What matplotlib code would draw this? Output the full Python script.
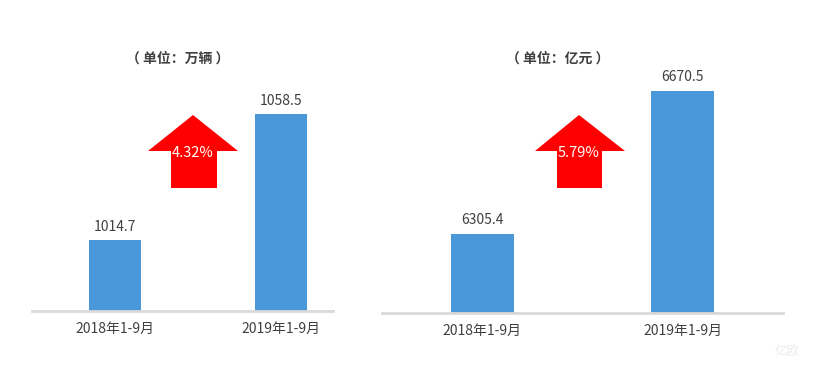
import matplotlib
matplotlib.use("Agg")
import matplotlib.pyplot as plt
from matplotlib.patches import Polygon

plt.rcParams['font.family'] = ['Noto Sans CJK SC', 'DejaVu Sans']

categories = ["2018年1-9月", "2019年1-9月"]
sales_values = [1014.7, 1058.5]
revenue_values = [6305.4, 6670.5]
titles = ["（ 单位：万辆 ）", "（ 单位：亿元 ）"]

W, H = 814, 371
fig = plt.figure(figsize=(W / 100, H / 100), dpi=100)

BLUE = "#4A97D9"
TEXT = "#404040"
GRID = "#D9D9D9"


def px_axes(x0, x1, ybot, ytop):
    return fig.add_axes([x0 / W, (H - ybot) / H, (x1 - x0) / W, (ybot - ytop) / H])


panels = [
    dict(vals=sales_values, title=titles[0], x0=32, x1=333, ybot=311, ytop=20,
         xlim=(-0.5, 1.313), width=0.313, ymin=990.0, scale=2.877,
         title_x=178, arrow=(193, 115, 148, 238, 171, 217, 151, 188)),
    dict(vals=revenue_values, title=titles[1], x0=382, x1=783, ybot=313, ytop=20,
         xlim=(-0.5, 1.5), width=0.315, ymin=6103.0, scale=0.3917,
         title_x=558, arrow=(579, 115, 535, 625, 557, 602, 151, 188)),
]

for p in panels:
    ax = px_axes(p["x0"], p["x1"], p["ybot"], p["ytop"])
    hpx = p["ybot"] - p["ytop"]
    ax.set_ylim(p["ymin"], p["ymin"] + hpx / p["scale"])
    ax.set_xlim(*p["xlim"])
    xs = list(range(len(categories)))
    ax.bar(xs, p["vals"], width=p["width"], color=BLUE, zorder=2)
    for x, v in zip(xs, p["vals"]):
        ax.annotate(f"{v:.1f}", (x, v), xytext=(0, 4.5), textcoords="offset points",
                    ha="center", va="bottom", fontsize=10, color=TEXT)
    for s in ["top", "right", "left"]:
        ax.spines[s].set_visible(False)
    ax.spines["bottom"].set_color(GRID)
    ax.spines["bottom"].set_linewidth(2)
    ax.set_yticks([])
    ax.set_xticks(xs)
    ax.set_xticklabels(categories, fontsize=10, color=TEXT)
    ax.tick_params(axis="x", length=0, pad=8)
    ax.patch.set_alpha(0)

    # title
    fig.text(p["title_x"] / W, (H - 59) / H, p["title"], ha="center", va="center",
             fontsize=10, fontweight="bold", color=TEXT)

    # growth arrow
    tipx, tipy, hl, hr, sl, sr, hb, sb = p["arrow"]
    pts = [(tipx, tipy), (hr, hb), (sr, hb), (sr, sb), (sl, sb), (sl, hb), (hl, hb)]
    pts = [(x / W, (H - y) / H) for x, y in pts]
    fig.add_artist(Polygon(pts, closed=True, transform=fig.transFigure,
                           facecolor="#FF0000", edgecolor="none"))
    growth = (p["vals"][1] / p["vals"][0] - 1) * 100
    fig.text(tipx / W, (H - 153) / H, f"{growth:.2f}%", ha="center", va="center",
             fontsize=10.5, color="white")

# faint watermark
fig.text(787 / W, (H - 352) / H, "亿欧", ha="center", va="center",
         fontsize=9, color="#EBEBEB")

fig.savefig("out.png", dpi=100)
